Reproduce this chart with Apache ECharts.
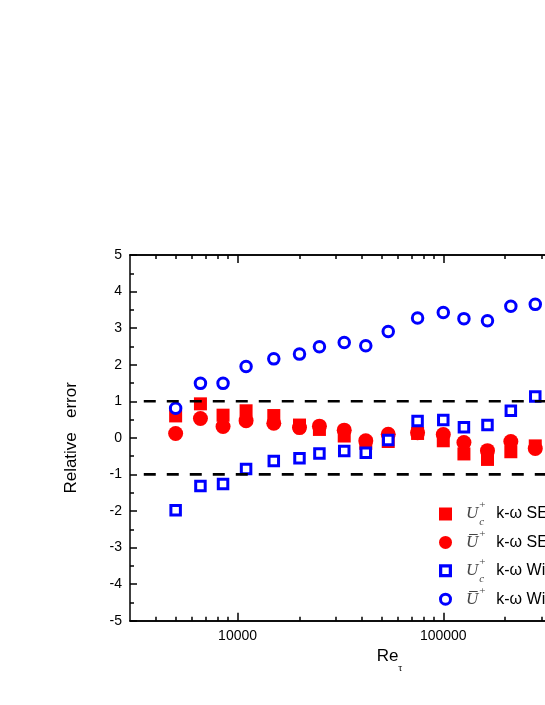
<!DOCTYPE html>
<html>
<head>
<meta charset="utf-8">
<script src="https://cdn.jsdelivr.net/npm/echarts@6/dist/echarts.min.js"></script>
<style>html,body{margin:0;padding:0;background:#fff;}#c{width:545px;height:705px;}</style>
</head>
<body>
<div id="c"></div>
<script>
// Re_tau values (x)
const reTau = [5000, 6600, 8500, 11000, 15000, 20000, 25000, 33000, 42000, 54000, 75000, 100000, 126000, 164000, 213000, 280000];
// Relative error series
const ucSE  = [0.60, 0.93, 0.62, 0.74, 0.61, 0.35, 0.23, 0.05, -0.15, -0.10, 0.12, -0.08, -0.44, -0.59, -0.38, -0.22];
const ubSE  = [0.12, 0.53, 0.31, 0.47, 0.40, 0.28, 0.32, 0.21, -0.08, 0.10, 0.14, 0.09, -0.13, -0.35, -0.10, -0.29];
const ucWil = [-1.98, -1.32, -1.26, -0.85, -0.63, -0.56, -0.43, -0.36, -0.41, -0.06, 0.46, 0.49, 0.29, 0.35, 0.74, 1.13];
const ubWil = [0.81, 1.49, 1.49, 1.95, 2.16, 2.29, 2.49, 2.61, 2.52, 2.91, 3.28, 3.43, 3.26, 3.20, 3.60, 3.65];
// reference lines
const refLevels = [1, -1];
const refXRange = [3500, 1000000];
// axis ticks
const xMajor = [10000, 100000];
const xMinor = [4000, 5000, 6000, 7000, 8000, 9000, 20000, 30000, 40000, 50000, 60000, 70000, 80000, 90000, 200000, 300000, 400000, 500000, 600000, 700000, 800000, 900000];
const xMin = 3000, xMax = 1000000;
const yMin = -5, yMax = 5;

const pairs = ys => reTau.map((x, i) => [x, ys[i]]);
const SANS = 'Liberation Sans';
const SERIF = 'Liberation Serif';

function xa(pos, ticks, len, labels) {
  return {
    type: 'log', logBase: 10, min: xMin, max: xMax, position: pos, gridIndex: 0,
    axisLine: { show: true, onZero: false, lineStyle: { color: '#000', width: 1.5 } },
    axisTick: { show: true, inside: true, length: len, customValues: ticks, lineStyle: { color: '#000', width: 1.5 } },
    axisLabel: labels ? { show: true, customValues: xMajor, formatter: v => String(Math.round(v)), color: '#000', fontSize: 14, fontFamily: SANS, margin: 8, hideOverlap: false } : { show: false },
    splitLine: { show: false }, minorTick: { show: false }
  };
}

const chart = echarts.init(document.getElementById('c'), null, { renderer: 'canvas' });
const xAxes = [xa('bottom', xMajor, 8, true), xa('bottom', xMinor, 4, false), xa('top', xMajor, 8, false), xa('top', xMinor, 4, false)];
xAxes[0].name = '{a|Re}{b|τ}';
xAxes[0].nameLocation = 'middle';
xAxes[0].nameGap = 22;
xAxes[0].nameTextStyle = {
  rich: {
    a: { fontSize: 17, fontFamily: SANS, color: '#000', lineHeight: 26, verticalAlign: 'top' },
    b: { fontSize: 10, fontFamily: SERIF, color: '#000', lineHeight: 26, verticalAlign: 'bottom' }
  }
};

const hollow = { color: '#ffffff', borderColor: '#0000ff', borderWidth: 3, opacity: 1 };
const ringSquare = 'path://M0,0H12V12H0Z M3,3V9H9V3Z';
const ringCircle = 'path://M7,0A7,7 0 1,1 7,14A7,7 0 1,1 7,0Z M7,3.2A3.8,3.8 0 1,0 7,10.8A3.8,3.8 0 1,0 7,3.2Z';

const legendText = {
  ucSE:  '{u|U}{sp|+}{sb|c}{t|k-ω SE}',
  ubSE:  '{u|U̅}{sp|+}{t|k-ω SE}',
  ucWil: '{u|U}{sp|+}{sb|c}{t|k-ω Wilcox}',
  ubWil: '{u|U̅}{sp|+}{t|k-ω Wilcox}'
};

chart.setOption({
  animation: false,
  backgroundColor: '#fff',
  grid: { left: 130, top: 255, width: 519, height: 365.7, containLabel: false, outerBoundsMode: 'none' },
  xAxis: xAxes,
  yAxis: {
    type: 'value', min: yMin, max: yMax, interval: 1,
    name: 'Relative   error', nameLocation: 'middle', nameGap: 50, nameRotate: 90,
    nameTextStyle: { fontSize: 17, fontFamily: SANS, color: '#000' },
    axisLine: { show: true, lineStyle: { color: '#000', width: 1.5 } },
    axisTick: { show: true, inside: true, length: 7, lineStyle: { color: '#000', width: 1.5 } },
    minorTick: { show: true, splitNumber: 2, length: 4, lineStyle: { color: '#000', width: 1.5 } },
    axisLabel: { color: '#000', fontSize: 14, fontFamily: SANS, margin: 8 },
    splitLine: { show: false }
  },
  legend: {
    orient: 'vertical', left: 434, top: 495, itemWidth: 13, itemHeight: 13, itemGap: 0.4,
    data: [
      { name: 'ucSE', icon: 'rect', itemStyle: { color: '#ff0000', opacity: 1 } },
      { name: 'ubSE', icon: 'circle', itemStyle: { color: '#ff0000', opacity: 1 } },
      { name: 'ucWil', icon: ringSquare, itemStyle: { color: '#0000ff', borderWidth: 0, opacity: 1 } },
      { name: 'ubWil', icon: ringCircle, itemStyle: { color: '#0000ff', borderWidth: 0, opacity: 1 } }
    ],
    formatter: n => legendText[n],
    textStyle: {
      lineHeight: 28,
      rich: {
        u: { fontFamily: SERIF, fontStyle: 'italic', fontSize: 17, color: '#444', lineHeight: 28, padding: [0, 1, 0, 9] },
        sp: { fontFamily: SERIF, fontSize: 11, color: '#444', lineHeight: 21, verticalAlign: 'top', width: 0 },
        sb: { fontFamily: SERIF, fontStyle: 'italic', fontSize: 11, color: '#444', lineHeight: 10, verticalAlign: 'bottom', width: 0 },
        t: { fontFamily: SANS, fontSize: 16, color: '#000', lineHeight: 28, padding: [0, 0, 0, 17] }
      }
    }
  },
  series: [
    { name: 'ucSE', type: 'scatter', data: pairs(ucSE), symbol: 'rect', symbolSize: 13, itemStyle: { color: '#ff0000', opacity: 1 }, z: 2 },
    { name: 'ubSE', type: 'scatter', data: pairs(ubSE), symbol: 'circle', symbolSize: 15, itemStyle: { color: '#ff0000', opacity: 1 }, z: 3 },
    { name: 'ucWil', type: 'scatter', data: pairs(ucWil), symbol: 'rect', symbolSize: 9.5, itemStyle: hollow, z: 4 },
    { name: 'ubWil', type: 'scatter', data: pairs(ubWil), symbol: 'circle', symbolSize: 10.5, itemStyle: hollow, z: 5 },
    ...refLevels.map(v => ({
      name: 'ref' + v, type: 'line', silent: true, symbol: 'none', z: 6,
      data: refXRange.map(x => [x, v]),
      lineStyle: { color: '#000', width: 2.6, type: [12, 11] }
    }))
  ]
});
</script>
</body>
</html>
